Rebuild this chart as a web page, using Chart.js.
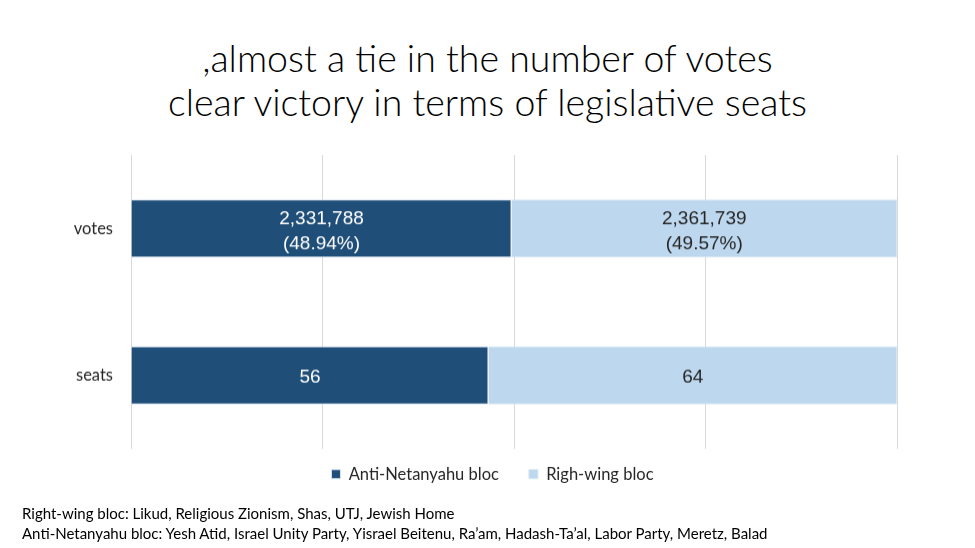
<!DOCTYPE html>
<html>
<head>
<meta charset="utf-8">
<script src="https://cdn.jsdelivr.net/npm/chart.js@4"></script>
<style>
  body { margin: 0; background: #fff; }
  #wrap { position: relative; width: 975px; height: 548px; overflow: hidden; font-family: Lato, "Open Sans", sans-serif; }
  #title { position: absolute; left: 0; top: 36px; width: 975px; text-align: center; font-size: 37.5px; font-weight: 300; line-height: 44px; color: #000; }
  #box { position: absolute; left: 0; top: 150px; width: 975px; height: 354.5px; }
  #notes { position: absolute; left: 22px; top: 503px; font-size: 15px; line-height: 20px; color: #000; }
</style>
</head>
<body>
<div id="wrap">
  <div id="title">,almost a tie in the number of votes<br>clear victory in terms of legislative seats</div>
  <div id="box"><canvas id="chart"></canvas></div>
  <div id="notes">
    Right-wing bloc: Likud, Religious Zionism, Shas, UTJ, Jewish Home<br>
    Anti-Netanyahu bloc: Yesh Atid, Israel Unity Party, Yisrael Beitenu, Ra’am, Hadash-Ta’al, Labor Party, Meretz, Balad
  </div>
</div>
<script>
const categories = ['votes', 'seats']
const antiValues = [2331788, 56]
const rightValues = [2361739, 64]
const antiPct = ['48.94%', null]
const rightPct = ['49.57%', null]

// share of the two blocs, for the 100% stacked bars
const share = (a, b) => a.map((v, i) => v / (v + b[i]) * 100)

const fmt = (v) => v.toLocaleString('en-US')

const labelPlugin = {
  id: 'barLabels',
  afterDatasetsDraw(chart) {
    const ctx = chart.ctx
    ctx.save()
    ctx.font = '19px "Liberation Sans", Arial, sans-serif'
    ctx.textAlign = 'center'
    ctx.textBaseline = 'middle'
    chart.data.datasets.forEach((ds, di) => {
      const meta = chart.getDatasetMeta(di)
      meta.data.forEach((bar, i) => {
        const x = (bar.x + bar.base) / 2
        const y = bar.y
        ctx.fillStyle = ds.labelColor
        const raw = fmt(ds.raw[i])
        if (ds.pct[i]) {
          ctx.fillText(raw, x, y - 9)
          ctx.fillText('(' + ds.pct[i] + ')', x, y + 16)
        } else {
          ctx.fillText(raw, x, y + 2)
        }
      })
    })
    ctx.restore()
  }
}

// nudge the legend: the original centres it on the slide, a bit closer to the plot
const legendSpot = {
  id: 'legendSpot',
  afterLayout(chart) {
    const lg = chart.legend
    lg.left += 44
    lg.right += 44
    lg.top -= 13
    lg.bottom -= 13
  }
}

new Chart(document.getElementById('chart'), {
  type: 'bar',
  data: {
    labels: categories,
    datasets: [
      {
        label: 'Anti-Netanyahu bloc',
        data: share(antiValues, rightValues),
        raw: antiValues,
        pct: antiPct,
        backgroundColor: '#1f4e79',
        borderColor: '#d6e3f0',
        borderWidth: 1,
        labelColor: '#ffffff',
      },
      {
        label: 'Righ-wing bloc',
        data: share(rightValues, antiValues),
        raw: rightValues,
        pct: rightPct,
        backgroundColor: '#bdd7ee',
        borderColor: '#d6e6f4',
        borderWidth: 1,
        labelColor: '#262626',
      },
    ],
  },
  options: {
    indexAxis: 'y',
    responsive: true,
    maintainAspectRatio: false,
    animation: false,
    layout: { padding: { top: 5, right: 78, bottom: 0, left: 0 } },
    categoryPercentage: 0.8,
    barPercentage: 0.495,
    scales: {
      x: {
        stacked: true,
        min: 0,
        max: 100,
        ticks: { display: false, stepSize: 25 },
        grid: { color: '#d9d9d9', drawTicks: false },
        border: { display: false },
      },
      y: {
        stacked: true,
        grid: { display: false },
        border: { display: false },
        ticks: { color: '#262626', padding: 10, font: { family: 'Lato, "Open Sans", sans-serif', size: 16.5 } },
        afterFit(scale) {
          scale.width = 131
          scale.paddingTop = 0
          scale.paddingBottom = 0
        },
      },
    },
    plugins: {
      legend: {
        position: 'bottom',
        labels: {
          boxWidth: 9,
          boxHeight: 9,
          padding: 30,
          color: '#262626',
          font: { family: 'Lato, "Open Sans", sans-serif', size: 16.5 },
        },
      },
      tooltip: { enabled: false },
    },
  },
  plugins: [labelPlugin, legendSpot],
})
</script>
</body>
</html>
